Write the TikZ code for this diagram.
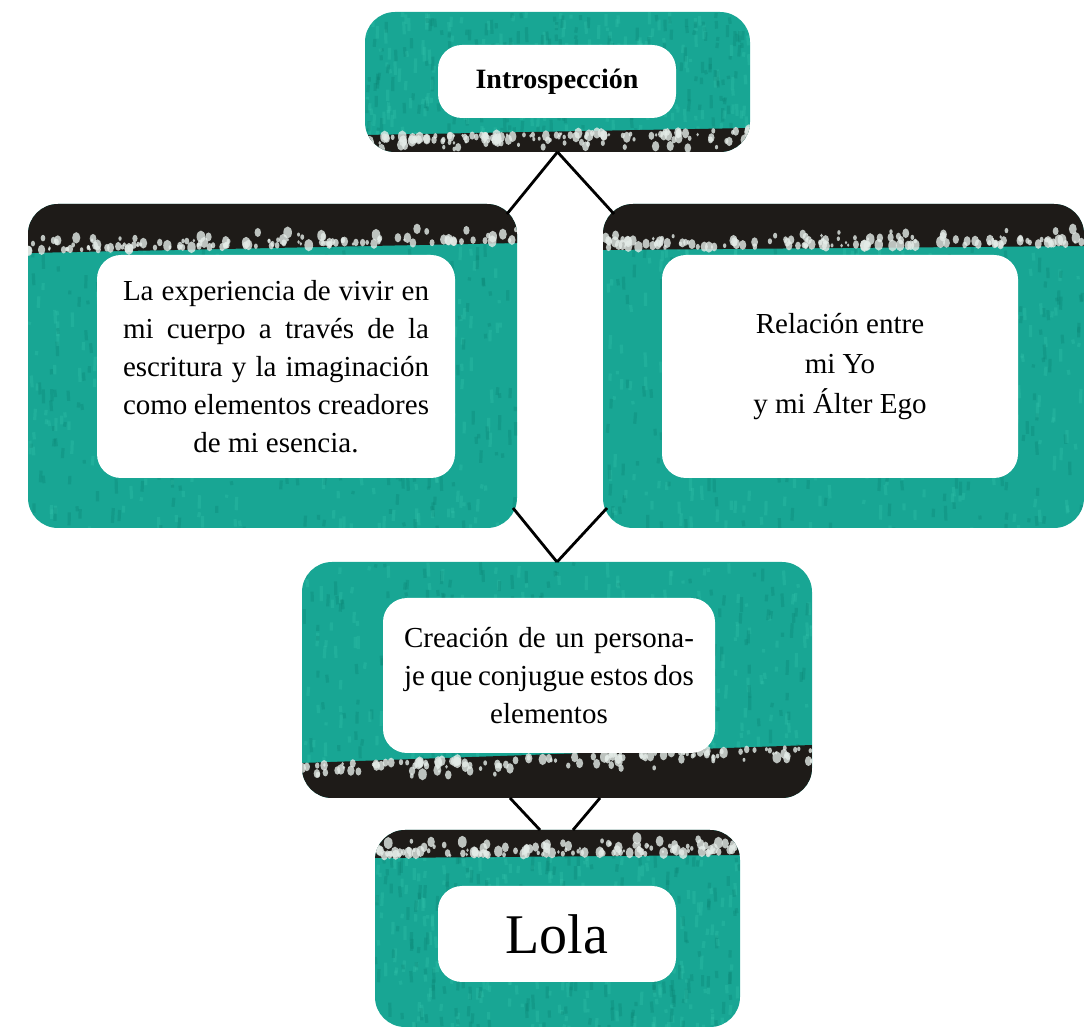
\documentclass[tikz,border=0pt]{standalone}
\usepackage{fontspec}
\setmainfont{Liberation Serif}
\usetikzlibrary{fit}
\definecolor{feltteal}{RGB}{24,166,148}
\definecolor{feltdark}{RGB}{10,128,112}
\definecolor{feltlight}{RGB}{52,196,172}
\definecolor{bandblack}{RGB}{30,27,24}
\definecolor{speck}{RGB}{228,236,232}
\tikzset{
  boxframe/.style={inner sep=0pt, outer sep=0pt},
  card/.style={fill=white, rounded corners=12pt, inner sep=0pt, align=center, font=\fontsize{14.5}{19}\selectfont},
  link/.style={line width=1.4pt, draw=black},
}
\newcommand\feltcard[6]{%
  \fill[feltteal, rounded corners=15pt] (#2,#3) rectangle (#4,#5);
  \begin{scope}
    \clip[rounded corners=15pt] (#2,#3) rectangle (#4,#5);
    \pgfmathsetseed{#6}
    \foreach \i in {1,...,520}{%
      \pgfmathsetmacro\fx{#2+rnd*(#4-#2)}%
      \pgfmathsetmacro\fy{#3+rnd*(#5-#3)}%
      \pgfmathsetmacro\fl{3+rnd*12}%
      \pgfmathsetmacro\fc{rnd}%
      \ifdim\fc pt<0.5pt \def\fcol{feltdark}\else\def\fcol{feltlight}\fi
      \draw[\fcol, opacity=0.3, line width=1.6pt] (\fx,\fy) -- ++(rnd*2-1,\fl);
    }
  \end{scope}
  \node[boxframe, fit={(#2,#3) (#4,#5)}] (#1) {};
}
\newcommand\feltband[8]{%
  \begin{scope}
    \clip[rounded corners=15pt] (#1,#2) rectangle (#3,#4);
    \fill[bandblack] (#1,#5) -- (#3,#6) -- (#3,#7) -- (#1,#7) -- cycle;
    \pgfmathsetseed{#8}
    \foreach \i in {1,...,130}{%
      \pgfmathsetmacro\st{rnd}%
      \pgfmathsetmacro\sx{#1+\st*(#3-#1)}%
      \pgfmathsetmacro\sy{#5+\st*(#6-#5)+sign(#7-#5)*(2+rnd*rnd*18)}%
      \pgfmathsetmacro\sr{1.2+rnd*3.2}%
      \fill[speck, opacity=0.8] (\sx,\sy) ellipse[x radius=\sr, y radius=\sr*1.4];
    }
  \end{scope}
}
\begin{document}
\begin{tikzpicture}[x=0.5pt, y=-0.5pt]
\useasboundingbox (0,0) rectangle (1084,1027);
\feltcard{top}{365}{12}{750}{152}{11}
\feltband{365}{12}{750}{152}{135}{128}{152}{21}
\feltcard{left}{28}{204}{517}{528}{12}
\feltband{28}{204}{517}{528}{253}{243}{204}{22}
\feltcard{right}{603}{204}{1084}{528}{13}
\feltband{603}{204}{1084}{528}{250}{246}{204}{23}
\feltcard{mid}{302}{562}{812}{798}{14}
\feltband{302}{562}{812}{798}{763}{745}{798}{24}
\feltcard{low}{375}{830}{740}{1027}{15}
\feltband{375}{830}{740}{1027}{858}{855}{830}{25}

\node[card, minimum width=119pt, minimum height=36.5pt] (introT) at (557,81.5)
  {\fontsize{14}{17}\selectfont\bfseries Introspección};
\node[card, minimum width=179pt, minimum height=111.5pt] (expT) at (276,366.5)
  {\makebox[153pt][s]{La experiencia de vivir en}\\
   \makebox[153pt][s]{mi cuerpo a través de la}\\
   \makebox[153pt][s]{escritura y la imaginación}\\
   \makebox[153pt][s]{como elementos creadores}\\
   \makebox[153pt][c]{de mi esencia.}};
\node[card, minimum width=178pt, minimum height=111.5pt, font=\fontsize{14.5}{20}\selectfont] (relT) at (840,366.5)
  {Relación entre\\mi Yo\\y mi Álter Ego};
\node[card, minimum width=166pt, minimum height=77.5pt] (creT) at (549,675.5)
  {\makebox[145pt][s]{Creación de un persona-}\\
   \makebox[145pt][s]{je que conjugue estos dos}\\
   \makebox[145pt][c]{elementos}};
\node[card, minimum width=119pt, minimum height=48pt] (lolaT) at (557,934)
  {\fontsize{28}{32}\selectfont Lola};

\coordinate (jL) at (507,214);
\coordinate (jR) at (614,214);
\coordinate (kL) at (513,508);
\coordinate (kR) at (607,508);
\coordinate (mL) at (510,798);
\coordinate (mR) at (600,798);
\coordinate (nL) at (540,830);
\coordinate (nR) at (573,830);
\draw[link] (top.south) -- (jL);
\draw[link] (top.south) -- (jR);
\draw[link] (kL) -- (mid.north);
\draw[link] (kR) -- (mid.north);
\draw[link] (mL) -- (nL);
\draw[link] (mR) -- (nR);
\end{tikzpicture}
\end{document}
